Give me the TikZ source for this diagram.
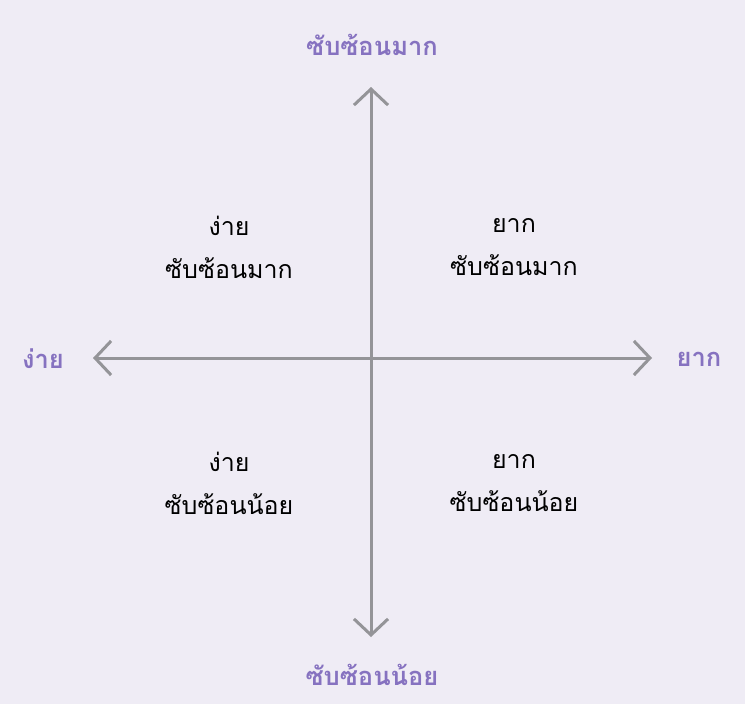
\documentclass[tikz,border=0pt]{standalone}
\usepackage{fontspec}
\newfontfamily\thaifont[Script=Thai]{Loma}
\usetikzlibrary{arrows.meta}

\definecolor{bgpurple}{HTML}{EFECF5}
\definecolor{axisgray}{HTML}{949498}
\definecolor{labelpurple}{HTML}{8672C0}

\tikzset{
	axis/.style={axisgray, line width=3pt, {Straight Barb[length=16pt,width=34pt]}-{Straight Barb[length=16pt,width=34pt]}},
	endlabel/.style={labelpurple, font=\thaifont\bfseries\fontsize{25.5}{30}\selectfont},
	quadtext/.style={black, align=center, font=\thaifont\fontsize{25}{43}\selectfont}
}

\begin{document}
\begin{tikzpicture}[x=1pt,y=-1pt]
	\fill[bgpurple] (0,0) rectangle (745,704);
	\useasboundingbox (0,0) rectangle (745,704);

	\coordinate (top) at (371,87);
	\coordinate (bottom) at (371,637);
	\coordinate (left) at (93,358);
	\coordinate (right) at (652,358);

	\draw[axis] (left)--(right);
	\draw[axis] (bottom)--(top);

	\node[endlabel] (hard) at (372,45) {ซับซ้อนมาก};
	\node[endlabel] (easy) at (372,675) {ซับซ้อนน้อย};
	\node[endlabel] (simple) at (43,359) {ง่าย};
	\node[endlabel] (difficult) at (699,359) {ยาก};

	\node[quadtext] (topleft) at (229,247) {ง่าย\\ซับซ้อนมาก};
	\node[quadtext] (topright) at (514,247) {ยาก\\ซับซ้อนมาก};
	\node[quadtext] (bottomleft) at (229,483) {ง่าย\\ซับซ้อนน้อย};
	\node[quadtext] (bottomright) at (514,483) {ยาก\\ซับซ้อนน้อย};
\end{tikzpicture}
\end{document}
